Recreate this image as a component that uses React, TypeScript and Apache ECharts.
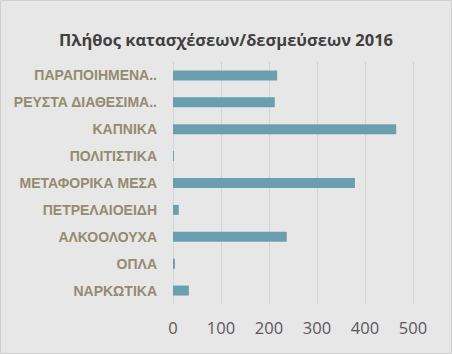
import React, { useEffect, useRef } from "react";
import * as echarts from "echarts";

const categories = [
  "ΠΑΡΑΠΟΙΗΜΕΝΑ..",
  "ΡΕΥΣΤΑ ΔΙΑΘΕΣΙΜΑ..",
  "ΚΑΠΝΙΚΑ",
  "ΠΟΛΙΤΙΣΤΙΚΑ",
  "ΜΕΤΑΦΟΡΙΚΑ ΜΕΣΑ",
  "ΠΕΤΡΕΛΑΙΟΕΙΔΗ",
  "ΑΛΚΟΟΛΟΥΧΑ",
  "ΟΠΛΑ",
  "ΝΑΡΚΩΤΙΚΑ",
];
const values = [217, 212, 465, 2, 379, 12, 237, 4, 33];
const titleText = "Πλήθος κατασχέσεων/δεσμεύσεων 2016";

export default function App() {
  const ref = useRef<HTMLDivElement>(null);
  useEffect(() => {
    document.body.style.margin = "0";
    const chart = echarts.init(ref.current!, null, { renderer: "svg" });
    chart.setOption({
      animation: false,
      backgroundColor: "#e7e7e7",
      title: {
        text: titleText,
        left: "center",
        top: 26,
        textStyle: {
          fontFamily: "Open Sans",
          fontSize: 16.5,
          fontWeight: "bold",
          color: "#404040",
        },
      },
      graphic: [
        {
          type: "rect",
          shape: { x: 0.5, y: 0.5, width: 451, height: 353 },
          style: { fill: "none", stroke: "#d0d0d0", lineWidth: 1 },
          silent: true,
        },
      ],
      grid: { left: 173, right: 39, top: 62, bottom: 50 },
      xAxis: {
        type: "value",
        min: 0,
        max: 500,
        interval: 100,
        axisLine: { show: false },
        axisTick: { show: false },
        splitLine: { show: true, lineStyle: { color: "#d4d4d4", width: 1 } },
        axisLabel: {
          margin: 15,
          fontFamily: "Open Sans",
          fontSize: 16.5,
          color: "#595959",
        },
      },
      yAxis: {
        type: "category",
        data: categories,
        inverse: true,
        axisLine: { show: false },
        axisTick: { show: false },
        splitLine: { show: false },
        axisLabel: {
          margin: 16,
          fontFamily: "Liberation Sans",
          fontSize: 14,
          fontWeight: "bold",
          color: "#958b6d",
        },
      },
      series: [
        {
          type: "bar",
          data: values,
          barWidth: 10,
          itemStyle: { color: "#6a9fb0" },
        },
      ],
    });
    return () => chart.dispose();
  }, []);
  return <div ref={ref} style={{ width: 452, height: 354 }} />;
}
